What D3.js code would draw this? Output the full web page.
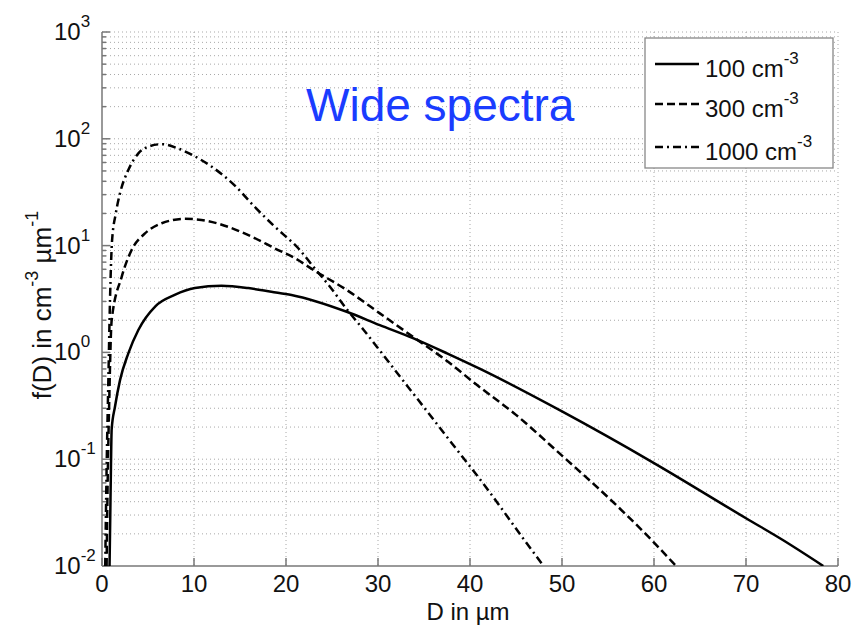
<!DOCTYPE html>
<html>
<head>
<meta charset="utf-8">
<script src="https://cdn.jsdelivr.net/npm/d3@7"></script>
<style>
  body { margin: 0; background: #fff; }
  text { font-family: "Liberation Sans", Arial, Helvetica, sans-serif; fill: #111; }
</style>
</head>
<body>
<svg id="chart" width="857" height="630"></svg>
<script>
// Drop size distributions f(D) for three number concentrations
const legendLabels = ["100 cm", "300 cm", "1000 cm"];

const diam100 = [0.82, 0.9, 0.97, 1.05, 1.41, 1.96, 2.86, 3.95, 5.8, 7.9, 10.1, 13.0, 15.9, 18.4, 20.6, 26.6, 30.2, 33.8, 37.5, 41.1, 50, 60, 70, 74, 78.4];
const f100    = [0.01, 0.03, 0.08, 0.19, 0.31, 0.55, 0.98, 1.62, 2.7, 3.45, 4.0, 4.2, 4.0, 3.7, 3.45, 2.4, 1.8, 1.36, 0.98, 0.7, 0.28, 0.092, 0.028, 0.0175, 0.01];

const diam300 = [0.5, 0.6, 0.8, 1.05, 2.14, 3.22, 4.67, 6.49, 9.0, 10.8, 13.7, 16.3, 18.8, 21.0, 23.0, 26.6, 30.2, 33.8, 37.5, 40.7, 45, 50, 55, 59.6, 62.4];
const f300    = [0.01, 0.05, 0.4, 2.0, 5.1, 9.1, 13, 16.2, 17.8, 17.4, 15, 12.1, 9.4, 7.6, 5.9, 3.84, 2.32, 1.4, 0.83, 0.5, 0.26, 0.108, 0.044, 0.018, 0.01];

const diam1000 = [0.35, 0.5, 0.7, 0.87, 1.09, 1.5, 1.96, 2.86, 3.95, 5.03, 6.49, 8.3, 9.75, 11.9, 14.5, 16.6, 18.8, 21.5, 23.0, 24.8, 26.6, 28.4, 30.2, 32.0, 34.2, 38, 42, 45.9, 48.0];
const f1000    = [0.01, 0.08, 0.6, 3.1, 11, 20, 31, 51, 73, 84.5, 89, 81, 71, 55, 36, 23, 15, 9.1, 6.3, 4.1, 2.54, 1.64, 1.04, 0.656, 0.375, 0.142, 0.051, 0.0175, 0.01];

const xTickValues = [0, 10, 20, 30, 40, 50, 60, 70, 80];
const yExponents = [-2, -1, 0, 1, 2, 3];
const titleText = "Wide spectra";
const xLabel = "D in \u00b5m";

// ---------------------------------------------------------------
const plot = { left: 102, right: 838, top: 32, bottom: 566 };
const x = d3.scaleLinear().domain([0, 80]).range([plot.left, plot.right]);
const y = d3.scaleLog().domain([1e-2, 1e3]).range([plot.bottom, plot.top]);

const svg = d3.select("#chart");

svg.append("defs").append("clipPath").attr("id", "plotClip")
  .append("rect")
  .attr("x", plot.left).attr("y", plot.top - 2)
  .attr("width", plot.right - plot.left).attr("height", plot.bottom - plot.top + 2);

// grid: dotted lines at every decade sub-step and every 10 µm
const gridVals = [];
yExponents.forEach(e => {
  for (let k = 1; k <= 9; k++) {
    const v = k * Math.pow(10, e);
    if (v > 1e-2 && v <= 1e3) gridVals.push(v);
  }
});
const grid = svg.append("g").attr("stroke", "#a8a8a8").attr("stroke-width", 1)
  .attr("stroke-dasharray", "1,3");
grid.selectAll("line.h").data(gridVals).join("line")
  .attr("class", "h")
  .attr("x1", plot.left).attr("x2", plot.right)
  .attr("y1", d => y(d)).attr("y2", d => y(d));
grid.selectAll("line.v").data(xTickValues.filter(d => d > 0)).join("line")
  .attr("class", "v")
  .attr("x1", d => x(d)).attr("x2", d => x(d))
  .attr("y1", plot.top).attr("y2", plot.bottom);

// axes lines and inward ticks
const axisG = svg.append("g").attr("stroke", "#777").attr("stroke-width", 1.5);
axisG.append("line").attr("x1", plot.left).attr("x2", plot.left)
  .attr("y1", plot.top).attr("y2", plot.bottom);
axisG.append("line").attr("x1", plot.left).attr("x2", plot.right)
  .attr("y1", plot.bottom).attr("y2", plot.bottom);
axisG.selectAll("line.yt").data(gridVals.concat([1e-2])).join("line")
  .attr("class", "yt")
  .attr("x1", plot.left).attr("x2", d => plot.left + (Math.abs(Math.log10(d) - Math.round(Math.log10(d))) < 1e-9 ? 8 : 4))
  .attr("y1", d => y(d)).attr("y2", d => y(d));
axisG.selectAll("line.xt").data(xTickValues).join("line")
  .attr("class", "xt")
  .attr("x1", d => x(d)).attr("x2", d => x(d))
  .attr("y1", plot.bottom).attr("y2", plot.bottom - 8);

// tick labels
svg.append("g").selectAll("text").data(xTickValues).join("text")
  .attr("x", d => x(d)).attr("y", 592)
  .attr("text-anchor", "middle").attr("font-size", 24)
  .text(d => d);

const yLab = svg.append("g").selectAll("text").data(yExponents).join("text")
  .attr("x", 54).attr("y", d => y(Math.pow(10, d)) + 8)
  .attr("font-size", 24);
yLab.append("tspan").text("10");
yLab.append("tspan").attr("font-size", 17).attr("dy", -13).text(d => d);

// axis titles
svg.append("text").attr("x", 468).attr("y", 620)
  .attr("text-anchor", "middle").attr("font-size", 24).text(xLabel);

const yTitle = svg.append("text")
  .attr("transform", "translate(51,305) rotate(-90)")
  .attr("text-anchor", "middle").attr("font-size", 26);
yTitle.append("tspan").text("f(D) in cm");
yTitle.append("tspan").attr("font-size", 18).attr("dy", -13).text("-3");
yTitle.append("tspan").attr("dy", 13).text(" \u00b5m");
yTitle.append("tspan").attr("font-size", 18).attr("dy", -13).text("-1");

// curves
const series = [
  { D: diam100, f: f100, dash: null },
  { D: diam300, f: f300, dash: "8,4" },
  { D: diam1000, f: f1000, dash: "8,4,2,4" }
];
const line = d3.line()
  .x(p => x(p[0])).y(p => y(p[1]))
  .curve(d3.curveMonotoneX);

svg.append("g").attr("clip-path", "url(#plotClip)")
  .selectAll("path").data(series).join("path")
  .attr("d", s => line(s.D.map((d, i) => [d, s.f[i]])))
  .attr("fill", "none").attr("stroke", "#000").attr("stroke-width", 2.5)
  .attr("stroke-dasharray", s => s.dash);

// title
svg.append("text").attr("x", 306).attr("y", 121)
  .attr("font-size", 46).style("fill", "#1a3cff").text(titleText);

// legend
const lg = svg.append("g");
lg.append("rect").attr("x", 645).attr("y", 38).attr("width", 188).attr("height", 130)
  .attr("fill", "#fff").attr("stroke", "#888").attr("stroke-width", 1.3);
const rowY = [64, 104, 147];
series.forEach((s, i) => {
  lg.append("line").attr("x1", 655).attr("x2", 699)
    .attr("y1", rowY[i]).attr("y2", rowY[i])
    .attr("stroke", "#000").attr("stroke-width", 2.5)
    .attr("stroke-dasharray", s.dash);
  const t = lg.append("text").attr("x", 705).attr("y", rowY[i] + 13).attr("font-size", 24);
  t.append("tspan").text(legendLabels[i]);
  t.append("tspan").attr("font-size", 17).attr("dy", -13).text("-3");
});
</script>
</body>
</html>
